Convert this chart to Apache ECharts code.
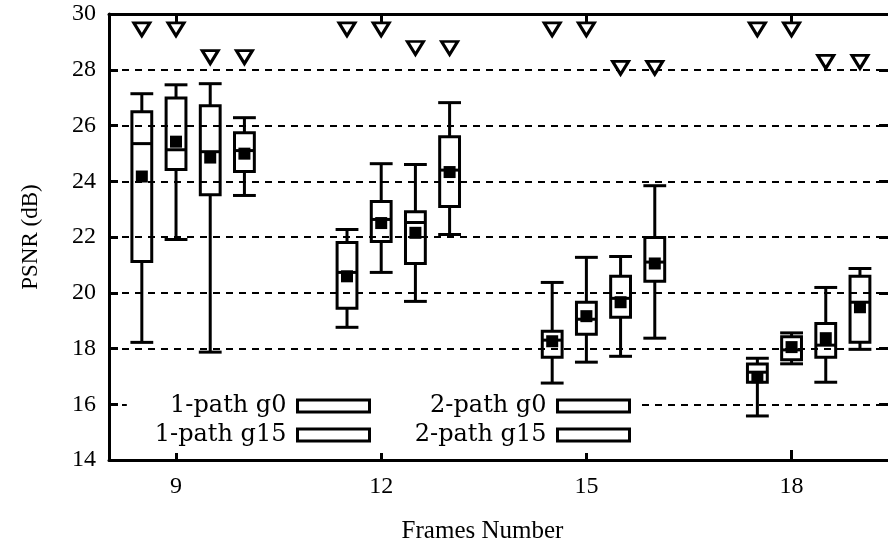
<!DOCTYPE html>
<html>
<head>
<meta charset="utf-8">
<script src="https://cdn.jsdelivr.net/npm/echarts@6/dist/echarts.min.js"></script>
<style>
  html, body { margin: 0; padding: 0; background: #fff; }
  #chart { width: 888px; height: 549px; }
</style>
</head>
<body>
<div id="chart"></div>
<script>
// Frame counts shown on the x axis
const frameTicks = [9, 12, 15, 18];
const seriesNames = ['1-path g0', '1-path g15', '2-path g0', '2-path g15'];

// Box positions along the x axis for each configuration
const p1g0X = [8.5, 11.5, 14.5, 17.5];
const p1g15X = [9, 12, 15, 18];
const p2g0X = [9.5, 12.5, 15.5, 18.5];
const p2g15X = [10, 13, 16, 19];

// PSNR statistics: [whisker low, Q1, median, Q3, whisker high]
const p1g0Box = [
  [18.22, 21.12, 25.35, 26.49, 27.14],
  [18.76, 19.44, 20.73, 21.80, 22.27],
  [16.76, 17.69, 18.30, 18.62, 20.37],
  [15.58, 16.79, 17.15, 17.44, 17.65]
];
const p1g15Box = [
  [21.91, 24.42, 25.13, 26.99, 27.46],
  [20.73, 21.84, 22.63, 23.27, 24.63],
  [17.51, 18.51, 19.05, 19.66, 21.27],
  [17.45, 17.60, 17.95, 18.42, 18.56]
];
const p2g0Box = [
  [17.87, 23.52, 25.06, 26.71, 27.50],
  [19.69, 21.05, 22.52, 22.91, 24.60],
  [17.72, 19.12, 19.80, 20.59, 21.30],
  [16.79, 17.69, 18.12, 18.90, 20.19]
];
const p2g15Box = [
  [23.49, 24.35, 25.10, 25.74, 26.28],
  [22.09, 23.09, 24.40, 25.60, 26.82],
  [18.37, 20.41, 21.10, 21.98, 23.84],
  [17.97, 18.22, 19.66, 20.59, 20.87]
];

// Mean PSNR per box
const p1g0Mean = [24.17, 20.59, 18.26, 16.97];
const p1g15Mean = [25.42, 22.50, 19.16, 18.05];
const p2g0Mean = [24.85, 22.15, 19.66, 18.37];
const p2g15Mean = [24.99, 24.33, 21.05, 19.48];

// Reference PSNR markers (open triangles)
const p1g0Ref = [29.45, 29.45, 29.45, 29.45];
const p1g15Ref = [29.45, 29.45, 29.45, 29.45];
const p2g0Ref = [28.45, 28.78, 28.07, 28.28];
const p2g15Ref = [28.45, 28.78, 28.07, 28.28];

// y axis tick values
const yMin = 14, yMax = 30, yStep = 2;

const FONT = 'Liberation Serif';
const LEGEND_FONT = 'DejaVu Serif';
const BOX_WIDTH = 0.29;   // in frame units
const LW = 3;

const groups = [
  { name: seriesNames[0], x: p1g0X, box: p1g0Box, mean: p1g0Mean, ref: p1g0Ref },
  { name: seriesNames[1], x: p1g15X, box: p1g15Box, mean: p1g15Mean, ref: p1g15Ref },
  { name: seriesNames[2], x: p2g0X, box: p2g0Box, mean: p2g0Mean, ref: p2g0Ref },
  { name: seriesNames[3], x: p2g15X, box: p2g15Box, mean: p2g15Mean, ref: p2g15Ref }
];

function renderBox(params, api) {
  const x = api.value(0);
  const lo = api.coord([x, api.value(1)]);
  const q1 = api.coord([x, api.value(2)]);
  const md = api.coord([x, api.value(3)]);
  const q3 = api.coord([x, api.value(4)]);
  const hi = api.coord([x, api.value(5)]);
  const half = api.size([BOX_WIDTH, 0])[0] / 2;
  const cx = lo[0];
  const lineStyle = { stroke: '#000', lineWidth: LW, fill: null };
  const hline = (y, ext) => ({
    type: 'line',
    shape: { x1: cx - half - ext, y1: y, x2: cx + half + ext, y2: y },
    style: lineStyle
  });
  return {
    type: 'group',
    children: [
      { type: 'line', shape: { x1: cx, y1: lo[1], x2: cx, y2: hi[1] }, style: lineStyle },
      hline(lo[1], LW / 2),
      hline(hi[1], LW / 2),
      {
        type: 'rect',
        shape: { x: cx - half, y: q3[1], width: 2 * half, height: q1[1] - q3[1] },
        style: { fill: '#fff', stroke: '#000', lineWidth: LW }
      },
      hline(md[1], 0)
    ]
  };
}

const series = [];
groups.forEach(g => {
  series.push({
    name: g.name,
    type: 'custom',
    renderItem: renderBox,
    encode: { x: 0, y: [1, 2, 3, 4, 5] },
    itemStyle: { color: '#fff', borderColor: '#000', borderWidth: LW },
    data: g.box.map((r, i) => [g.x[i]].concat(r)),
    z: 2,
    silent: true
  });
});
groups.forEach(g => {
  series.push({
    name: g.name + ' mean',
    type: 'scatter',
    symbol: 'rect',
    symbolSize: 12,
    itemStyle: { color: '#000', opacity: 1 },
    data: g.mean.map((v, i) => [g.x[i], v]),
    z: 4,
    silent: true
  });
  series.push({
    name: g.name + ' ref',
    type: 'scatter',
    symbol: 'triangle',
    symbolRotate: 180,
    symbolSize: [16, 13],
    itemStyle: { color: '#fff', borderColor: '#000', borderWidth: LW, opacity: 1 },
    data: g.ref.map((v, i) => [g.x[i], v]),
    z: 4,
    silent: true
  });
});

const labelStyle = { fontFamily: FONT, fontSize: 24, color: '#000' };
const legendCommon = {
  orient: 'vertical',
  align: 'right',
  icon: 'rect',
  itemWidth: 72,
  itemHeight: 12,
  itemGap: 5,
  top: 388,
  backgroundColor: '#fff',
  selectedMode: false,
  z: 6,
  itemStyle: { color: '#fff', borderColor: '#000', borderWidth: LW },
  textStyle: { fontFamily: LEGEND_FONT, fontSize: 24, color: '#000', lineHeight: 24, padding: [0, 6, 0, 0] }
};

const option = {
  backgroundColor: '#fff',
  animation: false,
  grid: { left: 109, right: 0, top: 14, bottom: 88 },
  legend: [
    Object.assign({}, legendCommon, {
      data: [seriesNames[0], seriesNames[1]],
      right: 475,
      padding: [6, 42, 6, 28]
    }),
    Object.assign({}, legendCommon, {
      data: [seriesNames[2], seriesNames[3]],
      right: 252,
      padding: [6, 5, 6, 8]
    })
  ],
  xAxis: [
    {
      type: 'value',
      position: 'bottom',
      min: 8.02,
      max: 19.41,
      z: 3,
      name: 'Frames Number',
      nameLocation: 'middle',
      nameGap: 59,
      nameTextStyle: Object.assign({}, labelStyle, { fontSize: 25, padding: [0, 32, 0, 0] }),
      axisLine: { show: true, lineStyle: { color: '#000', width: LW } },
      axisTick: { show: true, inside: true, length: 10, customValues: frameTicks, lineStyle: { color: '#000', width: LW } },
      axisLabel: { show: true, margin: 15, customValues: frameTicks, ...labelStyle },
      splitLine: { show: false }
    },
    {
      type: 'value',
      position: 'top',
      min: 8.02,
      max: 19.41,
      z: 3,
      axisLine: { show: true, lineStyle: { color: '#000', width: LW } },
      axisTick: { show: true, inside: true, length: 10, customValues: frameTicks, lineStyle: { color: '#000', width: LW } },
      axisLabel: { show: false },
      splitLine: { show: false }
    }
  ],
  yAxis: [
    {
      type: 'value',
      position: 'left',
      min: yMin,
      max: yMax,
      interval: yStep,
      z: 3,
      name: 'PSNR (dB)',
      nameLocation: 'middle',
      nameRotate: 90,
      nameGap: 67,
      nameTextStyle: Object.assign({}, labelStyle, { fontSize: 23 }),
      axisLine: { show: true, lineStyle: { color: '#000', width: LW } },
      axisTick: { show: true, inside: true, length: 9, lineStyle: { color: '#000', width: LW } },
      axisLabel: { show: true, margin: 13, ...labelStyle },
      splitLine: { show: true, lineStyle: { color: '#000', width: 2, type: [7, 6] } }
    },
    {
      type: 'value',
      position: 'right',
      min: yMin,
      max: yMax,
      interval: yStep,
      z: 3,
      axisLine: { show: false },
      axisTick: { show: true, inside: true, length: 9, lineStyle: { color: '#000', width: LW } },
      axisLabel: { show: false },
      splitLine: { show: false }
    }
  ],
  series: series
};

const chart = echarts.init(document.getElementById('chart'), null, { renderer: 'canvas' });
chart.setOption(option);
</script>
</body>
</html>
